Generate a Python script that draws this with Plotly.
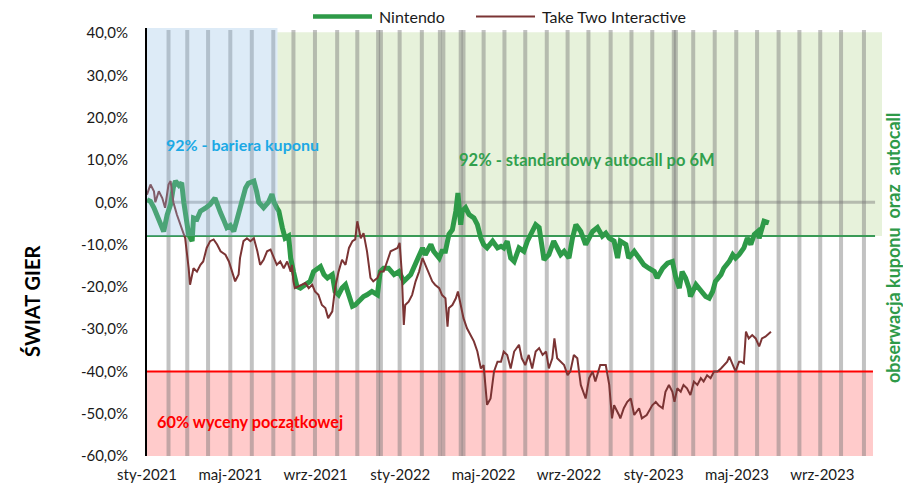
import plotly.graph_objects as go

# ---------------- data ----------------
nintendo_dates = [
    "2021-01-01","2021-01-06","2021-01-11","2021-01-15","2021-01-20","2021-01-25","2021-01-30",
    "2021-02-04","2021-02-08","2021-02-11","2021-02-16","2021-02-20","2021-02-23","2021-02-28",
    "2021-03-02","2021-03-07","2021-03-09","2021-03-14","2021-03-19","2021-03-26","2021-04-02",
    "2021-04-09","2021-04-14","2021-04-17","2021-04-21","2021-04-26","2021-05-01","2021-05-06",
    "2021-05-10","2021-05-13","2021-05-18","2021-05-23","2021-05-27","2021-06-04","2021-06-08",
    "2021-06-11","2021-06-18","2021-06-25","2021-06-30","2021-07-03","2021-07-07","2021-07-10",
    "2021-07-15","2021-07-19","2021-07-24","2021-07-27","2021-07-31","2021-08-05","2021-08-10",
    "2021-08-17","2021-08-24","2021-08-29","2021-09-03","2021-09-08","2021-09-13","2021-09-18",
    "2021-09-25","2021-09-29","2021-10-04","2021-10-09","2021-10-14","2021-10-19","2021-10-24",
    "2021-10-28","2021-11-05","2021-11-09","2021-11-14","2021-11-21","2021-11-29","2021-12-03",
    "2021-12-08","2021-12-15","2021-12-23","2021-12-30","2022-01-06","2022-01-11","2022-01-16",
    "2022-01-20","2022-01-28","2022-02-02","2022-02-06","2022-02-14","2022-02-18","2022-02-26",
    "2022-03-02","2022-03-07","2022-03-12","2022-03-17","2022-03-22","2022-03-25","2022-03-29",
    "2022-03-31","2022-04-05","2022-04-10","2022-04-17","2022-04-22","2022-04-27","2022-05-01",
    "2022-05-06","2022-05-14","2022-05-21","2022-05-26","2022-05-30","2022-06-04","2022-06-09",
    "2022-06-14","2022-06-21","2022-06-28","2022-07-03","2022-07-10","2022-07-15","2022-07-20",
    "2022-07-25","2022-07-27","2022-08-03","2022-08-10","2022-08-15","2022-08-20","2022-08-25",
    "2022-09-01","2022-09-06","2022-09-11","2022-09-18","2022-09-25","2022-09-30","2022-10-05",
    "2022-10-12","2022-10-19","2022-10-24","2022-10-29","2022-11-05","2022-11-10","2022-11-14",
    "2022-11-22","2022-11-26","2022-12-04","2022-12-11","2022-12-18","2022-12-25","2023-01-02",
    "2023-01-06","2023-01-14","2023-01-21","2023-01-28","2023-02-02","2023-02-07","2023-02-11",
    "2023-02-16","2023-02-21","2023-02-23","2023-03-03","2023-03-10","2023-03-17","2023-03-22",
    "2023-03-27","2023-03-31","2023-04-08","2023-04-12","2023-04-20","2023-04-25","2023-04-29",
    "2023-05-04","2023-05-11","2023-05-16","2023-05-21","2023-05-26","2023-05-31","2023-06-02",
    "2023-06-05","2023-06-09","2023-06-16",
]
nintendo_values = [
    0.6, 0.2, -1.3, -2.8, -4.5, -6.9, -3.0,
    -0.5, 3.5, 5.0, 4.0, 4.6, 0.0, -5.0,
    -7.6, -9.2, -3.7, -4.0, -2.1, -1.4, -0.5,
    1.0, -1.5, -2.5, -4.0, -6.0, -5.5, -6.9,
    -4.5, -2.9, 0.5, 3.4, 4.5, 5.0, 2.5,
    0.0, -1.3, 0.0, 1.9, 0.0, -1.3, -2.1,
    -6.0, -8.5, -8.0, -13.2, -16.4, -19.9, -20.3,
    -19.5, -18.7, -16.4, -15.6, -15.2, -17.1, -17.9,
    -17.1, -21.1, -21.9, -20.3, -19.5, -21.9, -24.6,
    -24.3, -22.7, -22.3, -21.9, -21.1, -21.9, -16.4,
    -15.6, -15.6, -17.1, -16.4, -18.7, -17.9, -17.1,
    -15.6, -12.4, -10.8, -12.4, -10.0, -11.6, -13.2,
    -11.6, -11.6, -7.6, -6.5, -2.1, 2.2, -5.3,
    -2.1, -1.3, -2.9, -3.7, -5.3, -8.5, -10.0,
    -10.8, -9.2, -10.8, -10.4, -10.8, -9.2, -13.2,
    -14.0, -10.8, -11.6, -9.2, -6.9, -5.3, -6.0,
    -10.8, -13.6, -12.4, -9.2, -10.8, -12.4, -11.6,
    -13.2, -8.5, -5.3, -6.9, -10.0, -8.5, -6.9,
    -6.0, -8.0, -7.3, -8.5, -9.2, -13.2, -9.2,
    -10.0, -13.2, -11.6, -13.2, -14.8, -15.6, -16.4,
    -17.9, -15.6, -14.4, -14.0, -17.9, -20.3, -16.4,
    -17.9, -20.3, -22.3, -19.5, -21.1, -22.3, -22.7,
    -21.1, -18.7, -17.1, -15.6, -14.0, -12.4, -13.2,
    -12.4, -10.8, -8.5, -10.0, -7.6, -6.9, -8.5,
    -6.5, -4.5, -4.9,
]

ttwo_dates = [
    "2021-01-01","2021-01-06","2021-01-11","2021-01-13","2021-01-18","2021-01-23","2021-01-27",
    "2021-02-01","2021-02-04","2021-02-08","2021-02-13","2021-02-20","2021-02-25","2021-03-02",
    "2021-03-04","2021-03-09","2021-03-14","2021-03-19","2021-03-23","2021-03-28","2021-04-02",
    "2021-04-07","2021-04-12","2021-04-17","2021-04-24","2021-04-29","2021-05-04","2021-05-08",
    "2021-05-13","2021-05-15","2021-05-20","2021-05-25","2021-05-30","2021-06-04","2021-06-09",
    "2021-06-13","2021-06-18","2021-06-23","2021-06-28","2021-07-03","2021-07-07","2021-07-12",
    "2021-07-17","2021-07-22","2021-07-27","2021-07-29","2021-07-31","2021-08-02","2021-08-07",
    "2021-08-12","2021-08-17","2021-08-22","2021-08-27","2021-08-31","2021-09-05","2021-09-10",
    "2021-09-15","2021-09-19","2021-09-25","2021-09-29","2021-10-04","2021-10-09","2021-10-14",
    "2021-10-19","2021-10-24","2021-10-28","2021-10-31","2021-11-05","2021-11-09","2021-11-14",
    "2021-11-19","2021-11-23","2021-11-29","2021-12-03","2021-12-08","2021-12-13","2021-12-18",
    "2021-12-23","2021-12-28","2021-12-31","2022-01-03","2022-01-06","2022-01-08","2022-01-13",
    "2022-01-18","2022-01-23","2022-01-28","2022-02-02","2022-02-06","2022-02-11","2022-02-16",
    "2022-02-20","2022-02-26","2022-03-02","2022-03-07","2022-03-10","2022-03-12","2022-03-17",
    "2022-03-22","2022-03-25","2022-03-29","2022-04-02","2022-04-07","2022-04-12","2022-04-17",
    "2022-04-22","2022-04-27","2022-05-01","2022-05-06","2022-05-11","2022-05-16","2022-05-21",
    "2022-05-26","2022-05-30","2022-06-04","2022-06-09","2022-06-14","2022-06-21","2022-06-25",
    "2022-06-30","2022-07-05","2022-07-10","2022-07-15","2022-07-20","2022-07-25","2022-07-30",
    "2022-08-03","2022-08-08","2022-08-11","2022-08-15","2022-08-20","2022-08-25","2022-08-30",
    "2022-09-03","2022-09-08","2022-09-13","2022-09-18","2022-09-25","2022-09-30","2022-10-05",
    "2022-10-09","2022-10-16","2022-10-24","2022-10-29","2022-11-02","2022-11-05","2022-11-12",
    "2022-11-14","2022-11-19","2022-11-24","2022-11-29","2022-12-04","2022-12-11","2022-12-15",
    "2022-12-22","2022-12-30","2023-01-04","2023-01-08","2023-01-14","2023-01-18","2023-01-23",
    "2023-01-28","2023-01-31","2023-02-04","2023-02-09","2023-02-13","2023-02-18","2023-02-23",
    "2023-02-28","2023-03-05","2023-03-10","2023-03-14","2023-03-19","2023-03-24","2023-03-29",
    "2023-04-03","2023-04-08","2023-04-12","2023-04-17","2023-04-20","2023-04-25","2023-04-29",
    "2023-05-04","2023-05-07","2023-05-11","2023-05-14","2023-05-16","2023-05-18","2023-05-23",
    "2023-05-28","2023-06-02","2023-06-06","2023-06-11","2023-06-19",
]
ttwo_values = [
    1.8, 4.2, 2.6, 0.0, 2.6, 1.0, -1.3,
    4.2, 5.0, 0.0, -2.9, -6.0, -8.5, -15.6,
    -19.5, -15.6, -16.4, -14.8, -14.0, -10.8, -9.2,
    -8.8, -10.0, -11.6, -12.4, -14.0, -16.4, -18.7,
    -17.1, -13.2, -9.2, -8.5, -9.2, -8.5, -11.6,
    -14.8, -13.6, -11.6, -11.2, -13.2, -14.8, -14.0,
    -15.6, -14.0, -16.4, -14.8, -18.7, -20.3, -19.9,
    -19.5, -19.1, -20.3, -19.5, -21.1, -21.9, -24.3,
    -25.0, -27.4, -25.8, -20.3, -16.4, -13.6, -14.8,
    -10.8, -9.2, -8.8, -4.5, -8.5, -7.3, -11.6,
    -17.9, -18.7, -17.9, -16.4, -16.4, -14.0, -11.6,
    -11.2, -10.8, -9.6, -16.4, -29.0, -24.3, -23.5,
    -21.9, -18.7, -16.4, -13.2, -14.8, -16.4, -18.7,
    -19.5, -20.3, -21.9, -22.7, -29.4, -25.0, -24.3,
    -22.7, -21.1, -24.3, -27.4, -29.8, -31.4, -32.9,
    -35.3, -39.3, -38.5, -47.9, -46.4, -40.0, -37.7,
    -37.7, -35.3, -36.1, -39.3, -35.3, -33.7, -36.9,
    -38.5, -36.1, -39.3, -35.3, -34.5, -36.1, -35.3,
    -39.3, -36.9, -32.2, -36.9, -37.7, -38.5, -40.9,
    -40.0, -36.1, -36.9, -43.2, -46.4, -41.6, -40.0,
    -42.4, -38.5, -38.5, -43.2, -51.1, -48.0, -50.3,
    -51.1, -48.7, -47.2, -46.4, -50.3, -48.7, -51.1,
    -50.3, -48.0, -47.2, -48.0, -48.7, -44.8, -43.2,
    -44.8, -47.2, -44.0, -44.8, -43.2, -44.0, -45.6,
    -42.4, -43.2, -41.6, -42.4, -40.9, -41.6, -40.0,
    -40.0, -39.3, -38.5, -37.7, -36.5, -38.5, -40.0,
    -37.7, -37.7, -38.1, -30.6, -31.4, -32.2, -31.4,
    -32.2, -34.1, -32.2, -31.8, -30.6,
]

observation_dates = [
    "2021-02-01","2021-02-28","2021-03-30","2021-05-01","2021-06-01","2021-07-02","2021-07-31",
    "2021-08-31","2021-10-02","2021-10-31","2021-11-30","2021-12-04","2021-12-31","2022-02-01",
    "2022-02-27","2022-03-04","2022-03-29","2022-04-02","2022-05-01","2022-05-31","2022-06-30",
    "2022-07-31","2022-08-30","2022-09-29","2022-10-31","2022-11-30","2022-12-30","2023-01-30",
    "2023-02-02","2023-02-27","2023-03-30","2023-04-30","2023-05-30","2023-06-30","2023-07-30",
    "2023-08-29","2023-09-28","2023-10-31",
]

x_tick_dates = ["2021-01-01","2021-05-01","2021-09-01","2022-01-01","2022-05-01",
                "2022-09-01","2023-01-01","2023-05-01","2023-09-01"]
x_tick_labels = ["sty-2021","maj-2021","wrz-2021","sty-2022","maj-2022",
                 "wrz-2022","sty-2023","maj-2023","wrz-2023"]
y_tick_values = [40, 30, 20, 10, 0, -10, -20, -30, -40, -50, -60]
y_tick_labels = ["40,0%","30,0%","20,0%","10,0%","0,0%","-10,0%","-20,0%",
                 "-30,0%","-40,0%","-50,0%","-60,0%"]

coupon_barrier = -8.0      # 92%
capital_barrier = -40.0    # 60%

# ---------------- styling ----------------
FONT = "Lato"
GREEN = "#2E9A48"
BROWN = "#7B3434"
X_START, X_END = "2021-01-01", "2023-11-26"
BLUE_END = "2021-07-08"
PINK_END = "2023-11-13"
LINE_END = "2023-11-16"

fig = go.Figure()

shapes = []
# light green autocall zone
shapes.append(dict(type="rect", xref="x", yref="y", x0=BLUE_END, x1=X_END, y0=coupon_barrier, y1=40.2,
                   fillcolor="#E7F2DB", line=dict(width=0), layer="below"))
# pink capital-barrier zone
shapes.append(dict(type="rect", xref="x", yref="y", x0=X_START, x1=PINK_END, y0=-60, y1=capital_barrier,
                   fillcolor="#FFCBCB", line=dict(width=0), layer="below"))
# observation bars
for d in observation_dates:
    shapes.append(dict(type="line", xref="x", yref="y", x0=d, x1=d, y0=-60, y1=40.7,
                       line=dict(color="rgba(120,120,120,0.45)", width=4), layer="below"))
# 0% line
shapes.append(dict(type="line", xref="x", yref="y", x0="2021-02-08", x1=LINE_END, y0=0, y1=0,
                   line=dict(color="rgba(120,120,120,0.45)", width=3), layer="below"))
# 92% line
shapes.append(dict(type="line", xref="x", yref="y", x0=X_START, x1=LINE_END, y0=coupon_barrier, y1=coupon_barrier,
                   line=dict(color="#3A9A56", width=2), layer="below"))
# 60% line
shapes.append(dict(type="line", xref="x", yref="y", x0=X_START, x1=PINK_END, y0=capital_barrier, y1=capital_barrier,
                   line=dict(color="#FF0000", width=2), layer="below"))
# blue coupon zone overlay (drawn above the lines)
shapes.append(dict(type="rect", xref="x", yref="y", x0=X_START, x1=BLUE_END, y0=coupon_barrier, y1=41.2,
                   fillcolor="rgba(142,188,228,0.30)", line=dict(width=0), layer="above"))

# manual legend
def px_x(p):
    return (p - 147) / 735.0
def px_y(p):
    return (456 - p) / 428.0

shapes.append(dict(type="line", xref="paper", yref="paper", x0=px_x(313), x1=px_x(372), y0=px_y(16.5), y1=px_y(16.5),
                   line=dict(color=GREEN, width=4.5)))
shapes.append(dict(type="line", xref="paper", yref="paper", x0=px_x(476), x1=px_x(535), y0=px_y(16.5), y1=px_y(16.5),
                   line=dict(color=BROWN, width=2)))

fig.add_trace(go.Scatter(x=nintendo_dates, y=nintendo_values, mode="lines", name="Nintendo",
                         line=dict(color=GREEN, width=5), showlegend=False))
fig.add_trace(go.Scatter(x=ttwo_dates, y=ttwo_values, mode="lines", name="Take Two Interactive",
                         line=dict(color=BROWN, width=2), showlegend=False))

annotations = [
    dict(text="Nintendo", x=px_x(377), y=px_y(16.5), xanchor="left", yanchor="middle",
         font=dict(family=FONT, size=16, color="#1a1a1a")),
    dict(text="Take Two Interactive", x=px_x(540), y=px_y(16.5), xanchor="left", yanchor="middle",
         font=dict(family=FONT, size=16, color="#1a1a1a")),
    dict(text="<b>92% - bariera kuponu</b>", x=px_x(164), y=px_y(145), xanchor="left", yanchor="middle",
         font=dict(family=FONT, size=16, color="#1CA9E5")),
    dict(text="<b>92% - standardowy autocall po 6M</b>", x=px_x(457), y=px_y(160), xanchor="left", yanchor="middle",
         font=dict(family=FONT, size=16.5, color="#32A04E")),
    dict(text="<b>60% wyceny początkowej</b>", x=px_x(155), y=px_y(421.5), xanchor="left", yanchor="middle",
         font=dict(family=FONT, size=16.3, color="#FF0000")),
    dict(text="<b>ŚWIAT GIER</b>", x=px_x(32), y=px_y(301), xanchor="center", yanchor="middle",
         textangle=-90, font=dict(family=FONT, size=20, color="#000000")),
    dict(text="<b>obserwacja kuponu\u00a0 oraz\u00a0 autocall</b>", x=px_x(893), y=px_y(248),
         xanchor="center", yanchor="middle", textangle=-90,
         font=dict(family=FONT, size=18, color="#2E9A48")),
]
for a in annotations:
    a.update(xref="paper", yref="paper", showarrow=False)

fig.update_layout(
    width=903, height=489,
    margin=dict(l=147, r=21, t=28, b=33, autoexpand=False),
    paper_bgcolor="white", plot_bgcolor="white",
    showlegend=False,
    shapes=shapes, annotations=annotations,
    xaxis=dict(type="date", range=[X_START, X_END], tickvals=x_tick_dates, ticktext=x_tick_labels,
               showgrid=False, zeroline=False, showline=False, automargin=False,
               ticks="outside", ticklen=5, tickcolor="rgba(0,0,0,0)",
               tickfont=dict(family=FONT, size=15, color="#1a1a1a")),
    yaxis=dict(range=[-60, 41.2], tickvals=y_tick_values, ticktext=y_tick_labels,
               showgrid=False, zeroline=False, showline=True, linecolor="black", linewidth=2,
               ticks="", ticklabelstandoff=14, automargin=False,
               tickfont=dict(family=FONT, size=15, color="#1a1a1a")),
)

fig.write_html("out.html", config={"displayModeBar": False},
               post_script="document.body.style.margin='0';document.body.style.overflow='hidden';")
